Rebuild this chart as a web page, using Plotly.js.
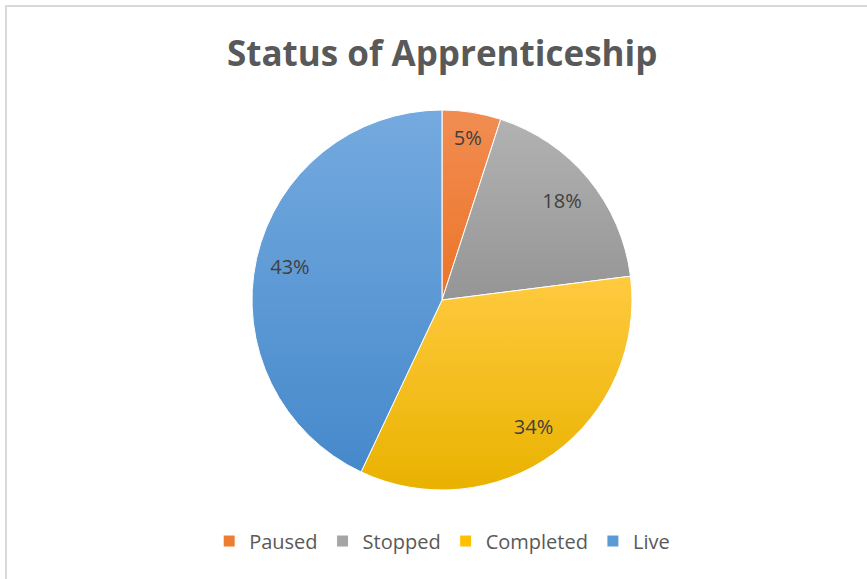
<!DOCTYPE html>
<html>
<head>
<meta charset="utf-8">
<script src="https://cdn.plot.ly/plotly-3.0.1.min.js"></script>
<style>
  html, body { margin: 0; padding: 0; background: #ffffff; }
  #wrap { position: relative; width: 867px; height: 579px; overflow: hidden; }
  #status-chart { width: 867px; height: 579px; }
  #frame {
    position: absolute; left: 5px; top: 5px; width: 900px; height: 600px;
    border-top: 2px solid #d9d9d9; border-left: 2px solid #d9d9d9;
    pointer-events: none;
  }
</style>
</head>
<body>
<div id="wrap">
  <div id="status-chart"></div>
  <div id="frame"></div>
</div>
<script>
(function () {
  "use strict";

  const STATUS_LABELS = ["Paused", "Stopped", "Completed", "Live"];
  const STATUS_SHARES = [5, 18, 34, 43];
  const STATUS_COLORS = ["#ED7D31", "#A5A5A5", "#FFC000", "#5B9BD5"];
  // top / bottom tones for the Excel-like shading
  const GRADIENT_STOPS = [
    ["#F18D52", "#EC7428"],
    ["#B2B2B2", "#959595"],
    ["#FFCA3F", "#E9B200"],
    ["#74AADF", "#4689CB"]
  ];

  const FONT = "Open Sans, Liberation Sans, sans-serif";
  const PIE_DOMAIN = { x: [0.0196, 1], y: [0.1537, 0.81] };

  function applyGradients(gd) {
    const svg = gd.querySelector("svg.main-svg");
    const ns = "http://www.w3.org/2000/svg";
    let defs = svg.querySelector("defs");
    if (!defs) {
      defs = document.createElementNS(ns, "defs");
      svg.insertBefore(defs, svg.firstChild);
    }
    GRADIENT_STOPS.forEach((pair, i) => {
      const grad = document.createElementNS(ns, "linearGradient");
      grad.setAttribute("id", "slice-grad-" + i);
      grad.setAttribute("x1", "0");
      grad.setAttribute("y1", "0");
      grad.setAttribute("x2", "0");
      grad.setAttribute("y2", "1");
      pair.forEach((color, k) => {
        const stop = document.createElementNS(ns, "stop");
        stop.setAttribute("offset", k === 0 ? "0" : "1");
        stop.setAttribute("stop-color", color);
        grad.appendChild(stop);
      });
      defs.appendChild(grad);
    });
    const mainTrace = gd.querySelectorAll(".pielayer g.trace")[0];
    mainTrace.querySelectorAll("g.slice").forEach((slice, i) => {
      const path = slice.querySelector("path.surface");
      if (path) {
        path.style.fill = "url(#slice-grad-" + i + ")";
      }
    });
  }

  // filled slices, no text
  const pieTrace = {
    type: "pie",
    labels: STATUS_LABELS,
    values: STATUS_SHARES,
    sort: false,
    direction: "clockwise",
    rotation: 0,
    marker: {
      colors: STATUS_COLORS,
      line: { color: "#ffffff", width: 1 }
    },
    textinfo: "none",
    domain: PIE_DOMAIN,
    hoverinfo: "label+percent"
  };

  // transparent ring on top, only to put the percentages near the rim
  const labelTrace = {
    type: "pie",
    labels: STATUS_LABELS,
    values: STATUS_SHARES,
    sort: false,
    direction: "clockwise",
    rotation: 0,
    hole: 0.64,
    showlegend: false,
    marker: {
      colors: STATUS_COLORS.map(() => "rgba(0,0,0,0)"),
      line: { width: 0 }
    },
    textinfo: "percent",
    texttemplate: "%{percent:.0%}",
    textposition: "inside",
    insidetextorientation: "horizontal",
    insidetextfont: { family: FONT, size: 20, color: "#404040" },
    domain: PIE_DOMAIN,
    hoverinfo: "skip"
  };

  const layout = {
    width: 867,
    height: 579,
    margin: { t: 0, r: 0, b: 0, l: 0 },
    paper_bgcolor: "#ffffff",
    font: { family: FONT, color: "#595959" },
    title: {
      text: "<b>Status of Apprenticeship</b>",
      font: { family: FONT, size: 35, color: "#595959" },
      x: 0.51,
      xanchor: "center",
      y: 0.908,
      yanchor: "middle"
    },
    showlegend: true,
    legend: {
      orientation: "h",
      x: 0.51,
      xanchor: "center",
      y: 0.0656,
      yanchor: "middle",
      font: { family: FONT, size: 20, color: "#595959" },
      itemclick: false
    }
  };

  Plotly.newPlot("status-chart", [pieTrace, labelTrace], layout, { displayModeBar: false, staticPlot: true })
    .then(applyGradients);
})();
</script>
</body>
</html>
